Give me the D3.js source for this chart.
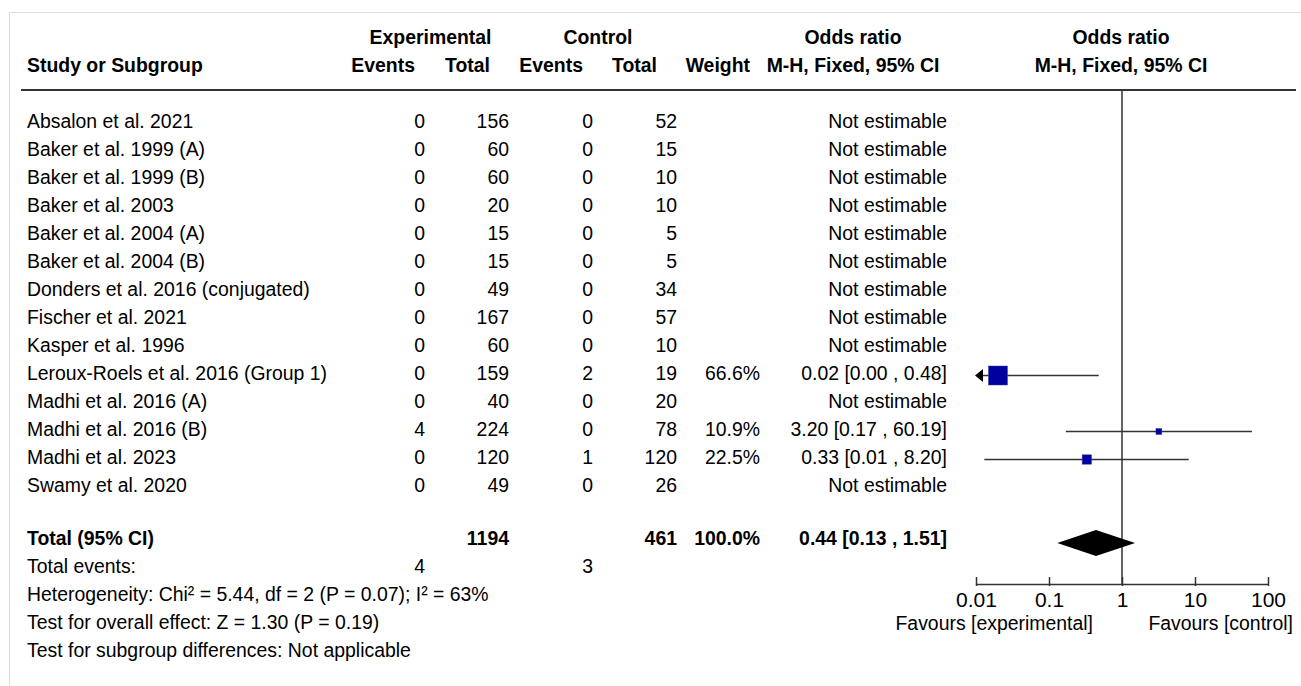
<!DOCTYPE html>
<html>
<head>
<meta charset="utf-8">
<script src="https://cdnjs.cloudflare.com/ajax/libs/d3/7.8.5/d3.min.js"></script>
<style>
  body { margin: 0; background: #fff; }
  svg text { font-family: "Liberation Sans", Arial, sans-serif; font-size: 21px; fill: #000; }
  .b { font-weight: bold; }
</style>
</head>
<body>
<svg id="chart"></svg>
<script>
// data
var studies = ["Absalon et al. 2021", "Baker et al. 1999 (A)", "Baker et al. 1999 (B)", "Baker et al. 2003",
  "Baker et al. 2004 (A)", "Baker et al. 2004 (B)", "Donders et al. 2016 (conjugated)", "Fischer et al. 2021",
  "Kasper et al. 1996", "Leroux-Roels et al. 2016 (Group 1)", "Madhi et al. 2016 (A)", "Madhi et al. 2016 (B)",
  "Madhi et al. 2023", "Swamy et al. 2020"];
var expEvents = [0, 0, 0, 0, 0, 0, 0, 0, 0, 0, 0, 4, 0, 0];
var expTotal = [156, 60, 60, 20, 15, 15, 49, 167, 60, 159, 40, 224, 120, 49];
var ctrlEvents = [0, 0, 0, 0, 0, 0, 0, 0, 0, 2, 0, 0, 1, 0];
var ctrlTotal = [52, 15, 10, 10, 5, 5, 34, 57, 10, 19, 20, 78, 120, 26];
var weight = [null, null, null, null, null, null, null, null, null, 66.6, null, 10.9, 22.5, null];
var orEst = [null, null, null, null, null, null, null, null, null, 0.02, null, 3.20, 0.33, null];
var orLow = [null, null, null, null, null, null, null, null, null, 0.001, null, 0.17, 0.013, null];
var orHigh = [null, null, null, null, null, null, null, null, null, 0.48, null, 60.19, 8.20, null];

var totalExp = 1194, totalCtrl = 461, totalWeight = 100.0;
var totalOr = [0.44, 0.13, 1.51];
var totalEventsExp = 4, totalEventsCtrl = 3;
var axisTicks = [0.01, 0.1, 1, 10, 100];
var footer = ["Heterogeneity: Chi\u00b2 = 5.44, df = 2 (P = 0.07); I\u00b2 = 63%",
  "Test for overall effect: Z = 1.30 (P = 0.19)",
  "Test for subgroup differences: Not applicable"];

var width = 1301, height = 686;
var svg = d3.select("#chart").attr("width", width).attr("height", height);

// light frame
svg.append("path").attr("d", "M9.5,686 V12.5 H1301").attr("fill", "none").attr("stroke", "#ddd").attr("stroke-width", 1);

// columns (right edges)
var col = { name: 27, ee: 425, et: 509, ce: 593, ct: 677, w: 760, or: 947 };

var x = d3.scaleLog().domain([0.01, 100]).range([976, 1268]);
var y = d3.scaleLinear().domain([0, studies.length - 1]).range([120, 120 + 28 * 13]);
var markOff = 3.5; // plot marks sit a little below the text centre
var size = d3.scalePow().exponent(0.65).domain([0, 66.6]).range([0, 19]);

// text is a touch narrow and tall in the original
var sx = 0.925;
function txt(xp, yp, s, anchor, cls) {
  return svg.append("text").attr("transform", "translate(" + xp + "," + (yp + 7.5) + ") scale(" + sx + ",1)")
    .attr("text-anchor", anchor || "start").attr("class", cls || null).text(s);
}
function fmtOr(e, l, h) { return e.toFixed(2) + " [" + l.toFixed(2) + " , " + h.toFixed(2) + "]"; }

// header
txt((352 + col.et) / 2, 36, "Experimental", "middle", "b");
txt((519 + col.ct) / 2, 36, "Control", "middle", "b");
txt(853, 36, "Odds ratio", "middle", "b");
txt(1121, 36, "Odds ratio", "middle", "b");
txt(col.name, 64, "Study or Subgroup", "start", "b");
txt(415, 64, "Events", "end", "b");
txt(490, 64, "Total", "end", "b");
txt(583, 64, "Events", "end", "b");
txt(657, 64, "Total", "end", "b");
txt(750, 64, "Weight", "end", "b");
txt(853, 64, "M-H, Fixed, 95% CI", "middle", "b");
txt(1121, 64, "M-H, Fixed, 95% CI", "middle", "b");

svg.append("line").attr("x1", 21).attr("x2", 1296).attr("y1", 90).attr("y2", 90)
  .attr("stroke", "#333").attr("stroke-width", 2);

// null line
svg.append("line").attr("x1", x(1)).attr("x2", x(1)).attr("y1", 90).attr("y2", 584)
  .attr("stroke", "#333").attr("stroke-width", 1.5);

// rows
studies.forEach(function(s, i) {
  var yy = y(i);
  txt(col.name, yy, s);
  txt(col.ee, yy, expEvents[i], "end");
  txt(col.et, yy, expTotal[i], "end");
  txt(col.ce, yy, ctrlEvents[i], "end");
  txt(col.ct, yy, ctrlTotal[i], "end");
  if (weight[i] != null) txt(col.w, yy, weight[i].toFixed(1) + "%", "end");
  txt(col.or, yy, orEst[i] == null ? "Not estimable" : fmtOr(orEst[i], orLow[i], orHigh[i]), "end");
});

// CI lines and squares
var est = studies.map(function(s, i) { return i; }).filter(function(i) { return orEst[i] != null; });
var lo = x.domain()[0], hi = x.domain()[1];
function ym(i) { return y(i) + markOff; }

svg.selectAll(".ci").data(est).enter().append("line")
  .attr("x1", function(i) { return x(Math.max(orLow[i], lo)) + (orLow[i] < lo ? 6 : 0); })
  .attr("x2", function(i) { return x(Math.min(orHigh[i], hi)); })
  .attr("y1", ym).attr("y2", ym)
  .attr("stroke", "#333").attr("stroke-width", 1.5);

svg.selectAll(".arrow").data(est.filter(function(i) { return orLow[i] < lo; })).enter().append("path")
  .attr("d", function(i) {
    var ax = x(lo) - 1, ay = ym(i);
    return "M" + ax + "," + ay + "L" + (ax + 8) + "," + (ay - 6.5) + "L" + (ax + 8) + "," + (ay + 6.5) + "Z";
  })
  .attr("fill", "#000");

svg.selectAll(".sq").data(est).enter().append("rect")
  .attr("x", function(i) { return x(orEst[i]) - size(weight[i]) / 2; })
  .attr("y", function(i) { return ym(i) - size(weight[i]) / 2; })
  .attr("width", function(i) { return size(weight[i]); })
  .attr("height", function(i) { return size(weight[i]); })
  .attr("fill", "#00009e").attr("stroke", "#3a3ab0").attr("stroke-width", 0.5);

// total
var yt = 537;
txt(col.name, yt, "Total (95% CI)", "start", "b");
txt(col.et, yt, totalExp, "end", "b");
txt(col.ct, yt, totalCtrl, "end", "b");
txt(col.w, yt, totalWeight.toFixed(1) + "%", "end", "b");
txt(col.or, yt, fmtOr(totalOr[0], totalOr[1], totalOr[2]), "end", "b");

var yd = 543;
svg.append("path")
  .attr("d", "M" + x(totalOr[1]) + "," + yd + "L" + x(totalOr[0]) + "," + (yd - 13) +
    "L" + x(totalOr[2]) + "," + yd + "L" + x(totalOr[0]) + "," + (yd + 13) + "Z")
  .attr("fill", "#000");

txt(col.name, 565, "Total events:");
txt(col.ee, 565, totalEventsExp, "end");
txt(col.ce, 565, totalEventsCtrl, "end");
footer.forEach(function(f, i) { txt(col.name, 593 + 28.3 * i, f); });

// axis
var ax = svg.append("g").attr("transform", "translate(0,584)")
  .call(d3.axisBottom(x).tickValues(axisTicks).tickFormat(d3.format("~g")).tickSize(-7).tickSizeOuter(0).tickPadding(8));
ax.select(".domain").attr("stroke", "#333").attr("stroke-width", 1.5);
ax.selectAll(".tick line").attr("stroke", "#333").attr("stroke-width", 1.5).attr("y1", 2);
ax.selectAll(".tick text").attr("font-size", 20).attr("font-family", "Liberation Sans, Arial, sans-serif").attr("fill", "#000");

txt(1093, 622, "Favours [experimental]", "end");
txt(1293, 622, "Favours [control]", "end");
</script>
</body>
</html>
